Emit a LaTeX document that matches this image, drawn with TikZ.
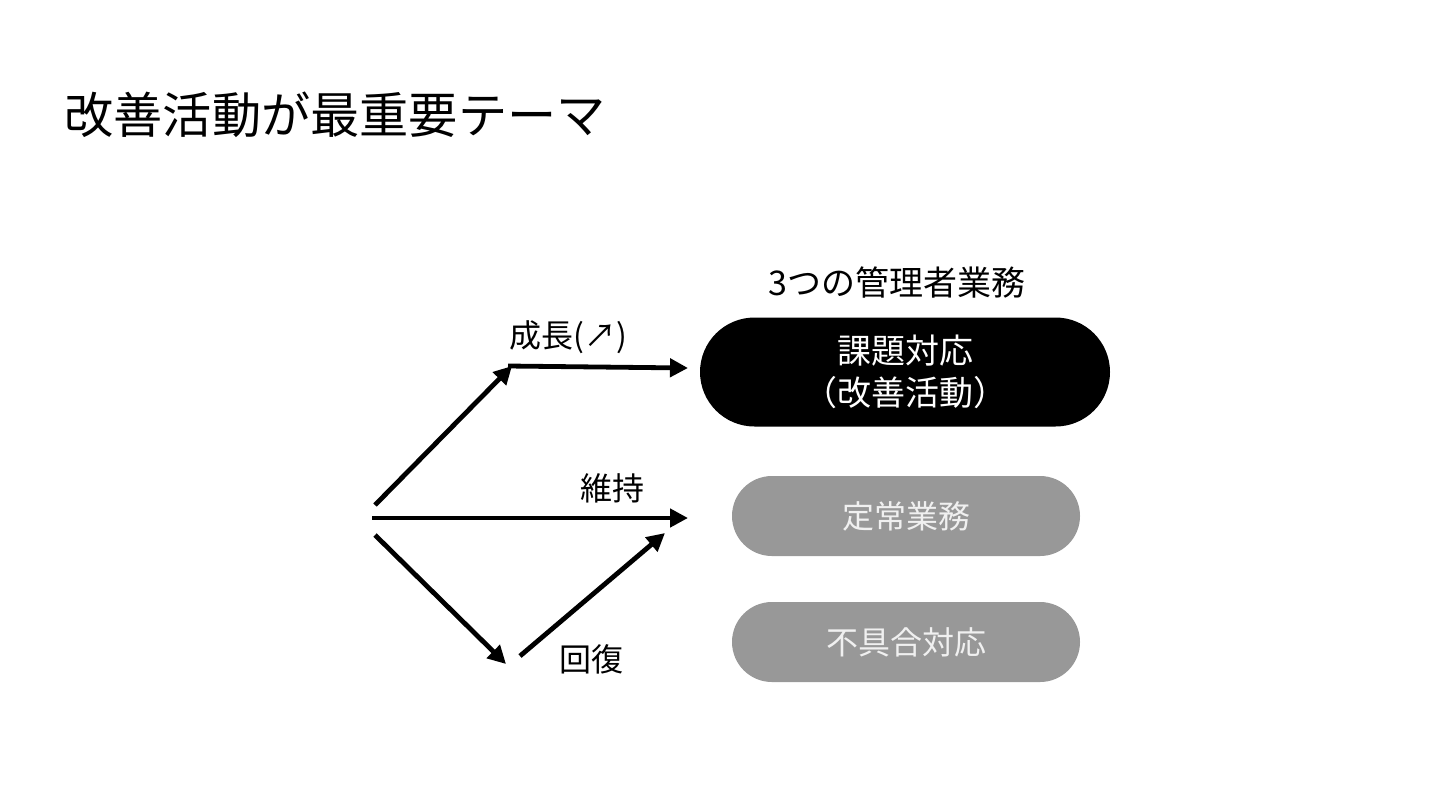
\documentclass[tikz,border=0pt]{standalone}
\usepackage{fontspec}
\setmainfont{Noto Sans CJK JP}
\usepackage{xcolor}
\usetikzlibrary{arrows.meta,positioning,shapes.misc}

\definecolor{pillgray}{RGB}{152,152,152}
\definecolor{pilltext}{RGB}{240,240,240}

\tikzset{
    pill/.style={rounded rectangle, minimum height=40pt, minimum width=174pt,
        fill=pillgray, text=pilltext, align=center, inner sep=0pt,
        font=\fontsize{16}{18}\selectfont},
    flow/.style={line width=2.4pt, -{Triangle[length=9pt,width=9pt]}},
    lbl/.style={font=\fontsize{16}{18}\selectfont, inner sep=0pt}
}

\begin{document}
\begin{tikzpicture}[x=0.5pt, y=-0.5pt]
\useasboundingbox[fill=white] (0,0) rectangle (1440,810);

% title
\node[anchor=west, font=\fontsize{24.6}{28}\selectfont, inner sep=0pt] (title) at (64,115) {改善活動が最重要テーマ};

% the three tasks
\node[lbl, font=\fontsize{17}{20}\selectfont] (head) at (897,283) {3つの管理者業務};
\node[pill, fill=black, text=white, minimum width=205pt, minimum height=54.5pt,
      font=\fontsize{17}{21}\selectfont] (kadai) at (905,372) {課題対応\\（改善活動）};
\node[pill] (teijo) at (906,516) {定常業務};
\node[pill] (fuguai) at (906,642) {不具合対応};

% arrows
\coordinate (start) at (372,518);
\coordinate (up) at (512,366);
\coordinate (low) at (506,664);
\coordinate (back) at (520,656);
\draw[flow] ([shift={(3,-13)}]start) -- (up);
\draw[flow] ([xshift=-2pt]up) -- (688,368) coordinate (topend);
\draw[flow] (start) -- (688,518) coordinate (midend);
\draw[flow] ([shift={(3,17)}]start) -- (low);
\draw[flow] (back) -- (665,533) coordinate (backend);

\node[lbl] (seicho) at (568,337) {成長(↗)};
\node[lbl] (iji) at (612,488) {維持};
\node[lbl] (kaifuku) at (591,659) {回復};

\end{tikzpicture}
\end{document}
